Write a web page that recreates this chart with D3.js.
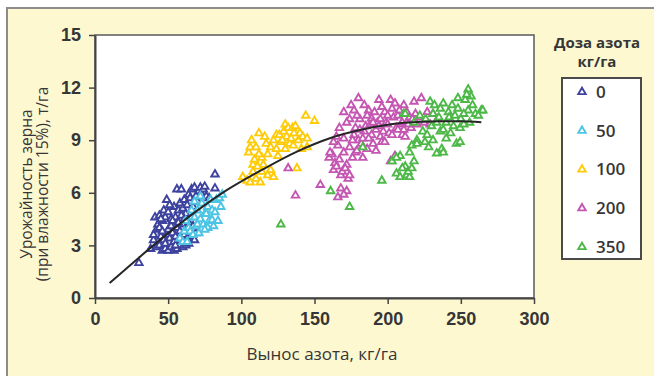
<!DOCTYPE html>
<html>
<head>
<meta charset="utf-8">
<script src="https://cdn.jsdelivr.net/npm/d3@7"></script>
<style>
  html, body { margin: 0; padding: 0; background: #fff; }
  svg { display: block; font-family: "Open Sans", "Noto Sans", sans-serif; }
</style>
</head>
<body>
<figure id="chart" style="margin:0"></figure>
<script>
// values: [вынос азота кг/га, урожайность т/га]
const dose0 = [
  [30,2.0],[38,2.8],[40,3.3],[42,2.9],[44,3.0],[46,2.7],[48,2.8],[50,2.7],[52,2.9],[54,2.7],[56,2.8],[58,3.0],[60,2.9],[62,3.0],[64,3.1],
  [40,3.6],[42,3.9],[43,4.2],[41,4.6],[44,4.7],[46,4.4],[48,4.6],[45,3.5],[47,3.3],[49,3.6],[50,3.9],[51,3.4],[52,4.1],[53,3.7],[54,3.2],
  [55,3.5],[56,4.0],[57,3.3],[58,3.8],[59,3.5],[60,4.2],[61,3.6],[62,3.9],[63,3.4],[64,4.3],[65,3.8],[66,3.5],[67,4.1],[68,3.3],[69,3.7],
  [47,5.0],[49,5.6],[50,4.9],[52,4.5],[54,5.2],[55,4.6],[56,6.2],[57,5.0],[58,5.4],[59,6.2],[60,5.1],[61,5.6],[62,4.8],[63,5.3],[64,5.9],
  [65,5.7],[66,6.2],[67,5.2],[68,6.3],[69,5.8],[70,5.5],[71,6.1],[72,6.3],[73,5.9],[74,6.2],[75,6.35],[76,5.8],[78,5.7],[82,6.25],[82,7.05],
  [44,4.0],[46,3.8],[48,3.1],[53,4.4],[57,4.3],[59,4.7],[51,5.3],[45,4.5],[55,3.0],[61,4.5]
];
const dose50 = [
  [58,3.4],[60,3.2],[61,3.8],[62,4.4],[63,3.2],[64,4.0],[65,3.8],[66,4.6],[67,3.6],[68,4.6],[69,4.1],[70,4.2],[70,5.0],[71,3.7],[72,4.5],
  [73,5.4],[74,4.2],[75,4.8],[76,4.8],[77,4.0],[77,5.2],[78,4.4],[79,5.6],[80,4.45],[80,5.0],[81,4.1],[82,4.9],[83,5.6],[84,4.4],[85,5.7],
  [86,5.2],[87,5.9],[66,5.0],[68,5.5],[72,5.8],[75,3.9]
];
const dose100 = [
  [101,6.9],[104,6.7],[106,6.6],[108,7.2],[110,6.8],[113,6.6],[115,7.6],[108,7.6],[111,7.5],[114,7.2],[118,7.0],[120,7.3],[122,6.9],
  [109,7.9],[114,8.0],[105,8.3],[106,8.6],[107,9.0],[110,8.6],[112,8.2],[116,9.2],[117,8.8],[120,8.6],[122,9.0],[124,8.5],[124,9.3],
  [126,9.3],[127,8.9],[129,9.5],[130,8.5],[130,9.9],[131,9.2],[132,9.7],[133,8.8],[134,9.1],[135,9.7],[135.5,8.7],[136,9.4],[137,9.8],
  [138,7.4],[139,9.0],[140,9.4],[141,8.5],[142,9.2],[144,10.4],[145,9.1],[145,8.6],[150,10.1],[118,8.2],[112,9.4],[125,8.1],[128,9.0]
];
const dose200 = [
  [132,7.4],[137,5.85],[154,6.45],[166,5.75],[168,6.25],[172,6.1],[170,5.9],
  [160,8.0],[162,8.2],[163,7.3],[164,7.7],[166,8.7],[167,9.7],[168,7.0],[169,7.2],[170,8.3],[170,9.1],[170,10.6],[172,7.6],[173,6.8],
  [174,8.6],[174,10.2],[174,7.0],[176,8.0],[177,9.3],[177,10.7],[178,8.3],[178,9.7],[180,11.4],[180,9.0],[181,10.2],[182,8.8],[183,8.0],
  [184,9.5],[185,9.8],[186,8.5],[187,10.7],[188,9.9],[189,9.3],[189,10.25],[190,8.8],[191,10.6],[192,9.6],[193,10.0],[194,11.3],[195,9.2],
  [195,10.2],[196,8.9],[197,9.5],[198,10.6],[199,10.0],[200,9.9],[201,9.4],[202,11.3],[202,7.8],[203,9.3],[204,10.3],[205,8.1],[206,9.7],
  [207,10.4],[208,10.7],[209,9.9],[210,9.3],[210,10.0],[211,11.0],[211,9.6],[212,9.2],[213,10.6],[213,10.0],[215,10.3],[216,9.7],[218,11.2],
  [219,10.5],[220,9.9],[222,10.3],[223,11.4],[225,10.0],[227,10.6],[229,9.9],[231,10.5],[234,10.2],[176,9.0],[179,8.4],[183,9.1],[186,10.4],
  [192,8.4],[198,8.9],[165,9.2],[172,10.0],[175,11.0],[184,11.0],[196,10.9],[205,11.1],[163,8.9],[167,7.9],[171,7.4],[160.6,8.3],[165,7.5],
  [181,9.6],[187,9.1],[194,9.8],[200,10.4],[207,9.6],[214,9.9],[190,10.0],[179,10.4],[203,10.8],[217,10.2]
];
const dose350 = [
  [127,4.2],[161,6.1],[174,5.2],[183,8.6],[196,6.7],[203,7.8],[206,7.1],[208.5,6.9],[208.5,8.1],[211,10.5],[212,7.5],[213,7.0],[215,6.9],
  [214,7.2],[216.5,7.4],[215,8.3],[216.5,8.7],[220,9.0],[220,8.8],[222,10.4],[225.5,8.9],[228,8.6],[229,11.2],[230,9.8],[231,9.0],[231,10.5],
  [233.5,10.0],[233.5,8.25],[236,9.5],[237,8.5],[238,11.1],[238,9.6],[238,8.3],[240,10.0],[240,9.1],[241.5,10.6],[244,11.0],[245,9.8],
  [247,8.8],[248,10.8],[249.5,9.7],[249.5,8.9],[253,11.3],[255,11.9],[255,10.7],[257,11.5],[260,10.5],[264,10.7],[265,10.7],[212,10.5],
  [218,10.0],[224,9.5],[226,10.2],[235,10.3],[242,10.3],[246,10.4],[250,10.2],[252,10.5],[256,10.0],[258,11.0],[262,10.4],[243,9.4],
  [252,9.9],[227,9.3],[210,7.4],[218,7.8],[206,8.0],[232,11.0],[236,10.8],[248,11.4],[254,11.6]
];
// trend line
const trend = [[10,0.85],[30,2.3],[50,3.7],[70,5.0],[90,6.15],[115,7.35],[138,8.35],[160,9.1],[185,9.65],[206,9.95],[230,10.07],[250,10.08],[264,10.02]];

const doses = ['0', '50', '100', '200', '350'];
const seriesData = [dose0, dose50, dose100, dose200, dose350];
const colorList = ['#3c429e', '#4cc4e4', '#ffcb08', '#c456b2', '#4db848'];
const xTicks = [0, 50, 100, 150, 200, 250, 300];
const yTicks = [0, 3, 6, 9, 12, 15];

const width = 654;
const height = 376;
const plot = {left: 95, right: 534, top: 35, bottom: 298};
const textColor = '#363636';

const svg = d3.select('#chart')
  .append('svg')
  .attr('width', width)
  .attr('height', height);

// outer panel
svg.append('rect')
  .attr('x', 7).attr('y', 8)
  .attr('width', width + 10).attr('height', height + 10)
  .attr('fill', '#fdf8d0')
  .attr('stroke', '#8c8c8c')
  .attr('stroke-width', 2);

svg.append('rect')
  .attr('x', plot.left).attr('y', plot.top)
  .attr('width', plot.right - plot.left).attr('height', plot.bottom - plot.top)
  .attr('fill', '#fff')
  .attr('stroke', '#5a5a5a')
  .attr('stroke-width', 1.5);

const xScale = d3.scaleLinear().domain([0, 300]).range([plot.left, plot.right]);
const yScale = d3.scaleLinear().domain([0, 15]).range([plot.bottom, plot.top]);

svg.append('g')
  .attr('transform', 'translate(0,' + plot.bottom + ')')
  .call(d3.axisBottom(xScale).tickValues(xTicks).tickSize(6).tickSizeOuter(0).tickPadding(8))
  .call(g => g.select('.domain').attr('stroke', '#444').attr('stroke-width', 2))
  .call(g => g.selectAll('.tick line').attr('stroke', '#444').attr('stroke-width', 1.5))
  .call(g => g.selectAll('.tick text').attr('fill', textColor).attr('font-weight', 600)
    .style('font-size', '18px').attr('font-family', null));

svg.append('g')
  .attr('transform', 'translate(' + plot.left + ',0)')
  .call(d3.axisLeft(yScale).tickValues(yTicks).tickSize(6).tickSizeOuter(0).tickPadding(8))
  .call(g => g.select('.domain').attr('stroke', '#444').attr('stroke-width', 2))
  .call(g => g.selectAll('.tick line').attr('stroke', '#444').attr('stroke-width', 1.5))
  .call(g => g.selectAll('.tick text').attr('fill', textColor).attr('font-weight', 600)
    .style('font-size', '18px').attr('font-family', null));

// axis titles
svg.append('text')
  .attr('x', 322).attr('y', 360)
  .attr('text-anchor', 'middle')
  .attr('fill', textColor)
  .style('font-size', '17px')
  .text('Вынос азота, кг/га');

svg.append('text')
  .attr('transform', 'translate(31.5,184) rotate(-90)')
  .attr('text-anchor', 'middle')
  .attr('fill', textColor)
  .style('font-size', '15.5px')
  .text('Урожайность зерна');

svg.append('text')
  .attr('transform', 'translate(47.5,184) rotate(-90)')
  .attr('text-anchor', 'middle')
  .attr('fill', textColor)
  .style('font-size', '15.5px')
  .text('(при влажности 15%), т/га');

// points
const tri = d3.symbol().type(d3.symbolTriangle).size(24);

const groups = svg.selectAll('.series')
  .data(seriesData)
  .join('g')
  .attr('class', 'series');

groups.selectAll('path')
  .data((d, j) => d.map(v => ({color: colorList[j], v: v})))
  .join('path')
  .attr('d', tri)
  .attr('transform', d => 'translate(' + xScale(d.v[0]) + ',' + yScale(d.v[1]) + ')')
  .attr('fill', '#fff')
  .attr('stroke', d => d.color)
  .attr('stroke-width', 1.9);

// trend curve
const line = d3.line()
  .x(d => xScale(d[0]))
  .y(d => yScale(d[1]))
  .curve(d3.curveMonotoneX);

svg.append('path')
  .attr('d', line(trend))
  .attr('fill', 'none')
  .attr('stroke', '#262626')
  .attr('stroke-width', 2);

// legend
svg.append('text')
  .attr('x', 597).attr('y', 48)
  .attr('text-anchor', 'middle')
  .attr('fill', textColor)
  .attr('font-weight', 'bold')
  .style('font-size', '15px')
  .text('Доза азота');

svg.append('text')
  .attr('x', 597).attr('y', 67)
  .attr('text-anchor', 'middle')
  .attr('fill', textColor)
  .attr('font-weight', 'bold')
  .style('font-size', '15px')
  .text('кг/га');

svg.append('rect')
  .attr('x', 562).attr('y', 78)
  .attr('width', 79).attr('height', 181)
  .attr('fill', '#fff')
  .attr('stroke', '#4a4a4a')
  .attr('stroke-width', 2);

const legendY = d3.scalePoint().domain(doses).range([92, 247]);

const items = svg.selectAll('.legend-item')
  .data(doses)
  .join('g')
  .attr('class', 'legend-item')
  .attr('transform', d => 'translate(582,' + legendY(d) + ')');

items.append('path')
  .attr('d', tri)
  .attr('fill', '#fff')
  .attr('stroke', (d, i) => colorList[i])
  .attr('stroke-width', 1.9);

items.append('text')
  .attr('x', 14)
  .attr('dy', '0.35em')
  .attr('fill', textColor)
  .attr('font-weight', 600)
  .style('font-size', '17px')
  .text(d => d);
</script>
</body>
</html>
